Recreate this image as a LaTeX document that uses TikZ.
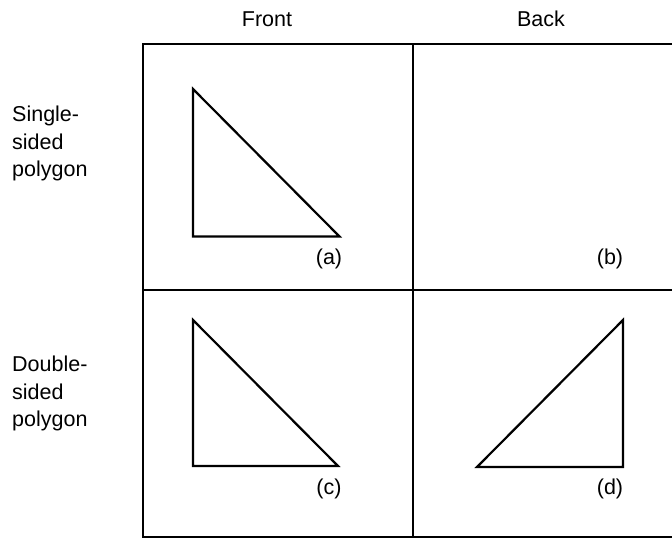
\documentclass[tikz,border=0pt]{standalone}
\usepackage{fontspec}
\setmainfont{Liberation Sans}
\begin{document}
\begin{tikzpicture}[x=1pt,y=-1pt,
  lbl/.style={inner sep=0pt, font=\fontsize{21.5}{27.5}\selectfont},
  grid/.style={line width=2pt},
  tri/.style={line width=2.2pt, line join=miter}]
\useasboundingbox (0,0) rectangle (672,539);
% column headers
\node[lbl, anchor=base] (front) at (267,26) {Front};
\node[lbl, anchor=base] (back) at (541,26) {Back};
% row headers (base anchor = last line)
\node[lbl, anchor=base west, align=left] (single) at (12,176.7) {Single-\\sided\\polygon};
\node[lbl, anchor=base west, align=left] (double) at (12,426.7) {Double-\\sided\\polygon};
% grid
\coordinate (tl) at (143,44);
\coordinate (tm) at (413,44);
\coordinate (tr) at (672,44);
\coordinate (ml) at (143,290);
\coordinate (mr) at (672,290);
\coordinate (bl) at (143,537);
\coordinate (bm) at (413,537);
\coordinate (br) at (672,537);
\draw[grid] (tr) -- (tl) -- (bl) -- (br);
\draw[grid] (ml) -- (mr);
\draw[grid] (tm) -- (bm);
% triangles
\draw[tri] (193,89) -- (193,236.5) -- (339.5,236.5) -- cycle;
\draw[tri] (193,320) -- (193,466) -- (338,466) -- cycle;
\draw[tri] (623,320) -- (623,467) -- (477,467) -- cycle;
% labels
\node[lbl] (la) at (329,259) {(a)};
\node[lbl] (lb) at (610,259) {(b)};
\node[lbl] (lc) at (329,489) {(c)};
\node[lbl] (ld) at (610,489) {(d)};
\end{tikzpicture}
\end{document}
